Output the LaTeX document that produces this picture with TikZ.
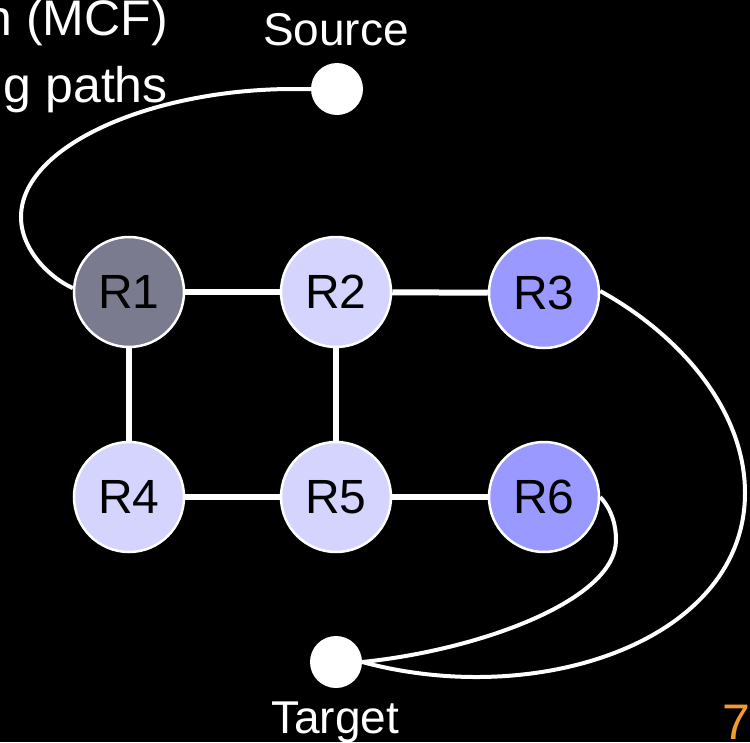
\documentclass[tikz,border=0pt]{standalone}
\usepackage{fontspec}
\setmainfont{Liberation Sans}
\definecolor{routerdark}{HTML}{7B7B8F}
\definecolor{routerlight}{HTML}{D4D4FF}
\definecolor{routermid}{HTML}{9999FF}
\definecolor{pagenum}{HTML}{F39A30}
\tikzset{
  router/.style={circle, draw=white, line width=2.5pt, minimum size=110pt,
    inner sep=0pt, text=black, font=\fontsize{48}{56}\selectfont},
  endpoint/.style={circle, fill=white, minimum size=52pt, inner sep=0pt},
  link/.style={draw=white, line width=6pt},
  flow/.style={draw=white, line width=4pt},
  caption/.style={text=white, font=\fontsize{46}{54}\selectfont, inner sep=0pt},
  slidetext/.style={text=white, font=\fontsize{50}{58}\selectfont, inner sep=0pt}
}
\begin{document}
\begin{tikzpicture}[x=1pt, y=-1pt]
  \clip (0,0) rectangle (750,742);
  \fill[black] (0,0) rectangle (750,742);

  % fragments of the slide text
  \node[slidetext, anchor=base east] (t1) at (168,35) {n (MCF)};
  \node[slidetext, anchor=base east] (t2) at (168,102) {g paths};

  % routers
  \node[router, fill=routerdark]  (R1) at (129,292) {R1};
  \node[router, fill=routerlight] (R2) at (336,292) {R2};
  \node[router, fill=routermid]   (R3) at (544,293) {R3};
  \node[router, fill=routerlight] (R4) at (129,497) {R4};
  \node[router, fill=routerlight] (R5) at (336,497) {R5};
  \node[router, fill=routermid]   (R6) at (544,497) {R6};

  % source and target
  \node[endpoint] (src) at (337,89) {};
  \node[endpoint] (tgt) at (336,662) {};
  \node[caption, anchor=base] (srclabel) at (336,45) {Source};
  \node[caption, anchor=base] (tgtlabel) at (335,733) {Target};

  % grid links
  \draw[link] (R1) -- (R2);
  \draw[link] (R2) -- (R3);
  \draw[link] (R1) -- (R4);
  \draw[link] (R2) -- (R5);
  \draw[link] (R4) -- (R5);
  \draw[link] (R5) -- (R6);

  % flow paths
  \draw[flow] (src.west) -- (290,89) .. controls (150,90) and (21,146) .. (21,217)
              .. controls (21,250) and (50,278) .. (R1.176);
  \draw[flow] (R3.2) .. controls (680,335) and (745,410) .. (745,493)
              .. controls (745,640) and (540,710) .. (tgt.east);
  \draw[flow] (R6.0) .. controls (612,510) and (616,525) .. (616,540)
              .. controls (616,600) and (480,650) .. (tgt.east);

  % page number
  \node[anchor=base west, text=pagenum, font=\fontsize{50}{58}\selectfont, inner sep=0pt]
    (pg) at (722,739) {7/};
\end{tikzpicture}
\end{document}
